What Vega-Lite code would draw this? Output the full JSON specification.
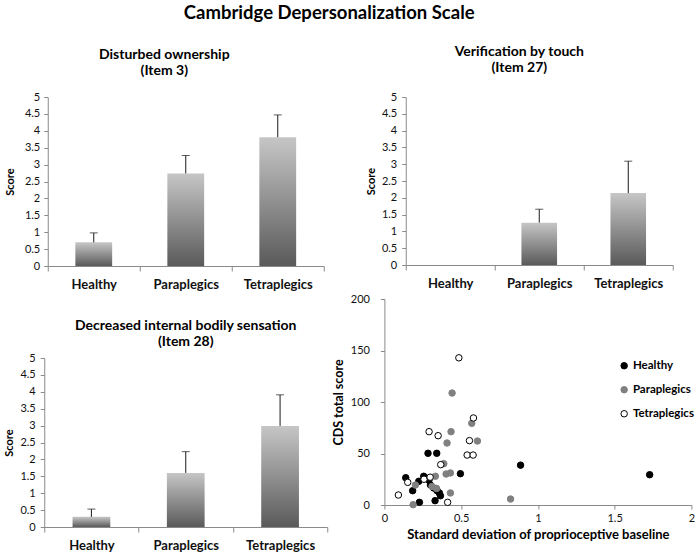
{
  "$schema": "https://vega.github.io/schema/vega-lite/v6.json",
  "padding": {"left": 3, "top": 3, "right": 3, "bottom": 3},
  "title": {"text": "Cambridge Depersonalization Scale", "anchor": "middle", "fontSize": 18.5, "fontWeight": "bold", "font": "Lato", "color": "#000", "offset": 23, "dx": -20},
  "config": {
    "font": "Lato",
    "view": {"stroke": null},
    "axis": {"domainColor": "#8a8a8a", "tickColor": "#8a8a8a", "labelColor": "#111", "titleColor": "#000", "grid": false, "labelFont": "Lato", "titleFont": "Lato", "labelOverlap": false},
    "title": {"font": "Lato", "fontSize": 14, "fontWeight": "bold", "color": "#000", "lineHeight": 16}
  },
  "resolve": {"legend": {"fill": "independent", "stroke": "independent"}},
  "datasets": {
    "item3": [
      {"group": "Healthy", "mean": 0.70, "upper": 0.98},
      {"group": "Paraplegics", "mean": 2.74, "upper": 3.27},
      {"group": "Tetraplegics", "mean": 3.81, "upper": 4.47}
    ],
    "item27": [
      {"group": "Healthy", "mean": 0.0, "upper": 0.0},
      {"group": "Paraplegics", "mean": 1.26, "upper": 1.66},
      {"group": "Tetraplegics", "mean": 2.14, "upper": 3.09}
    ],
    "item28": [
      {"group": "Healthy", "mean": 0.30, "upper": 0.53},
      {"group": "Paraplegics", "mean": 1.60, "upper": 2.23},
      {"group": "Tetraplegics", "mean": 2.99, "upper": 3.91}
    ],
    "scatter": [
      {"group": "Healthy", "sd": 0.139, "cds": 26.5},
      {"group": "Healthy", "sd": 0.184, "cds": 13.9},
      {"group": "Healthy", "sd": 0.224, "cds": 23},
      {"group": "Healthy", "sd": 0.228, "cds": 2.6},
      {"group": "Healthy", "sd": 0.256, "cds": 27.9},
      {"group": "Healthy", "sd": 0.284, "cds": 50.2},
      {"group": "Healthy", "sd": 0.341, "cds": 50.2},
      {"group": "Healthy", "sd": 0.29, "cds": 24},
      {"group": "Healthy", "sd": 0.30, "cds": 19.4},
      {"group": "Healthy", "sd": 0.321, "cds": 16.5},
      {"group": "Healthy", "sd": 0.343, "cds": 13.9},
      {"group": "Healthy", "sd": 0.358, "cds": 11.7},
      {"group": "Healthy", "sd": 0.365, "cds": 9},
      {"group": "Healthy", "sd": 0.33, "cds": 4.2},
      {"group": "Healthy", "sd": 0.495, "cds": 30.4},
      {"group": "Healthy", "sd": 0.887, "cds": 38.7},
      {"group": "Healthy", "sd": 1.728, "cds": 29.4},
      {"group": "Paraplegics", "sd": 0.441, "cds": 108.7},
      {"group": "Paraplegics", "sd": 0.569, "cds": 79.3},
      {"group": "Paraplegics", "sd": 0.434, "cds": 71.2},
      {"group": "Paraplegics", "sd": 0.408, "cds": 60.2},
      {"group": "Paraplegics", "sd": 0.606, "cds": 62.1},
      {"group": "Paraplegics", "sd": 0.387, "cds": 40.1},
      {"group": "Paraplegics", "sd": 0.402, "cds": 30.1},
      {"group": "Paraplegics", "sd": 0.43, "cds": 31.1},
      {"group": "Paraplegics", "sd": 0.332, "cds": 27.9},
      {"group": "Paraplegics", "sd": 0.202, "cds": 19.4},
      {"group": "Paraplegics", "sd": 0.31, "cds": 18},
      {"group": "Paraplegics", "sd": 0.34, "cds": 16},
      {"group": "Paraplegics", "sd": 0.43, "cds": 11.7},
      {"group": "Paraplegics", "sd": 0.187, "cds": 0.3},
      {"group": "Paraplegics", "sd": 0.822, "cds": 5.8},
      {"group": "Tetraplegics", "sd": 0.485, "cds": 142.9},
      {"group": "Tetraplegics", "sd": 0.58, "cds": 84.5},
      {"group": "Tetraplegics", "sd": 0.291, "cds": 71.2},
      {"group": "Tetraplegics", "sd": 0.35, "cds": 67.3},
      {"group": "Tetraplegics", "sd": 0.554, "cds": 62.5},
      {"group": "Tetraplegics", "sd": 0.539, "cds": 48.5},
      {"group": "Tetraplegics", "sd": 0.578, "cds": 48.5},
      {"group": "Tetraplegics", "sd": 0.367, "cds": 39.2},
      {"group": "Tetraplegics", "sd": 0.258, "cds": 25},
      {"group": "Tetraplegics", "sd": 0.298, "cds": 27},
      {"group": "Tetraplegics", "sd": 0.152, "cds": 22},
      {"group": "Tetraplegics", "sd": 0.091, "cds": 9.7},
      {"group": "Tetraplegics", "sd": 0.412, "cds": 2.6}
    ]
  },
  "spacing": 4,
  "hconcat": [
    {
      "center": true,
      "spacing": 28,
      "vconcat": [
        {
          "width": 276, "height": 169,
          "title": {"text": ["Disturbed ownership", "(Item 3)"], "frame": "bounds", "offset": 13},
          "data": {"name": "item3"},
          "encoding": {
            "x": {"field": "group", "type": "nominal", "sort": null, "title": null,
                  "scale": {"paddingInner": 0, "paddingOuter": 0},
                  "axis": {"labelAngle": 0, "labelFontWeight": "bold", "labelFontSize": 13, "tickBand": "extent", "tickSize": 5, "labelPadding": 7}}
          },
          "layer": [
            {"mark": {"type": "bar", "width": {"band": 0.4}, "color": {"gradient": "linear", "x1": 0, "y1": 0, "x2": 0, "y2": 1, "stops": [{"offset": 0, "color": "#c6c6c6"}, {"offset": 1, "color": "#5a5a5a"}]}},
             "encoding": {"y": {"field": "mean", "type": "quantitative", "title": "Score", "scale": {"domain": [0, 5]},
                                "axis": {"values": [0, 0.5, 1, 1.5, 2, 2.5, 3, 3.5, 4, 4.5, 5], "labelExpr": "'' + datum.value", "tickSize": 4, "labelPadding": 4, "titlePadding": 9, "labelFontSize": 11, "titleFontSize": 11, "titleFontWeight": "bold", "labelFlush": false}}}},
            {"transform": [{"filter": "datum.upper > datum.mean"}],
             "mark": {"type": "rule", "color": "#1a1a1a", "strokeWidth": 1},
             "encoding": {"y": {"field": "mean", "type": "quantitative", "title": "Score",
                                "axis": {"values": [0, 0.5, 1, 1.5, 2, 2.5, 3, 3.5, 4, 4.5, 5], "labelExpr": "'' + datum.value", "tickSize": 4, "labelPadding": 4, "titlePadding": 9, "labelFontSize": 11, "titleFontSize": 11, "titleFontWeight": "bold", "labelFlush": false}},
                          "y2": {"field": "upper"}}},
            {"transform": [{"filter": "datum.upper > datum.mean"}],
             "mark": {"type": "tick", "color": "#1a1a1a", "size": 8, "thickness": 1},
             "encoding": {"y": {"field": "upper", "type": "quantitative", "title": "Score",
                                "axis": {"values": [0, 0.5, 1, 1.5, 2, 2.5, 3, 3.5, 4, 4.5, 5], "labelExpr": "'' + datum.value", "tickSize": 4, "labelPadding": 4, "titlePadding": 9, "labelFontSize": 11, "titleFontSize": 11, "titleFontWeight": "bold", "labelFlush": false}}}}
          ]
        },
        {
          "width": 283, "height": 169,
          "title": {"text": ["Decreased internal bodily sensation", "(Item 28)"], "frame": "group", "offset": 3},
          "data": {"name": "item28"},
          "encoding": {
            "x": {"field": "group", "type": "nominal", "sort": null, "title": null,
                  "scale": {"paddingInner": 0, "paddingOuter": 0},
                  "axis": {"labelAngle": 0, "labelFontWeight": "bold", "labelFontSize": 13, "tickBand": "extent", "tickSize": 5, "labelPadding": 7}}
          },
          "layer": [
            {"mark": {"type": "bar", "width": {"band": 0.4}, "color": {"gradient": "linear", "x1": 0, "y1": 0, "x2": 0, "y2": 1, "stops": [{"offset": 0, "color": "#c6c6c6"}, {"offset": 1, "color": "#5a5a5a"}]}},
             "encoding": {"y": {"field": "mean", "type": "quantitative", "title": "Score", "scale": {"domain": [0, 5]},
                                "axis": {"values": [0, 0.5, 1, 1.5, 2, 2.5, 3, 3.5, 4, 4.5, 5], "labelExpr": "'' + datum.value", "tickSize": 4, "labelPadding": 5, "titlePadding": 5, "labelFontSize": 11, "titleFontSize": 11, "titleFontWeight": "bold", "labelFlush": false}}}},
            {"transform": [{"filter": "datum.upper > datum.mean"}],
             "mark": {"type": "rule", "color": "#1a1a1a", "strokeWidth": 1},
             "encoding": {"y": {"field": "mean", "type": "quantitative", "title": "Score",
                                "axis": {"values": [0, 0.5, 1, 1.5, 2, 2.5, 3, 3.5, 4, 4.5, 5], "labelExpr": "'' + datum.value", "tickSize": 4, "labelPadding": 5, "titlePadding": 5, "labelFontSize": 11, "titleFontSize": 11, "titleFontWeight": "bold", "labelFlush": false}},
                          "y2": {"field": "upper"}}},
            {"transform": [{"filter": "datum.upper > datum.mean"}],
             "mark": {"type": "tick", "color": "#1a1a1a", "size": 8, "thickness": 1},
             "encoding": {"y": {"field": "upper", "type": "quantitative", "title": "Score",
                                "axis": {"values": [0, 0.5, 1, 1.5, 2, 2.5, 3, 3.5, 4, 4.5, 5], "labelExpr": "'' + datum.value", "tickSize": 4, "labelPadding": 5, "titlePadding": 5, "labelFontSize": 11, "titleFontSize": 11, "titleFontWeight": "bold", "labelFlush": false}}}}
          ]
        }
      ]
    },
    {
      "center": true,
      "spacing": 3,
      "resolve": {"legend": {"fill": "independent", "stroke": "independent"}},
      "vconcat": [
        {
          "width": 267, "height": 168,
          "title": {"text": ["Verification by touch", "(Item 27)"], "frame": "bounds", "offset": 16},
          "data": {"name": "item27"},
          "encoding": {
            "x": {"field": "group", "type": "nominal", "sort": null, "title": null,
                  "scale": {"paddingInner": 0, "paddingOuter": 0},
                  "axis": {"labelAngle": 0, "labelFontWeight": "bold", "labelFontSize": 13, "tickBand": "extent", "tickSize": 5, "labelPadding": 7}}
          },
          "layer": [
            {"mark": {"type": "bar", "width": {"band": 0.4}, "color": {"gradient": "linear", "x1": 0, "y1": 0, "x2": 0, "y2": 1, "stops": [{"offset": 0, "color": "#c6c6c6"}, {"offset": 1, "color": "#5a5a5a"}]}},
             "encoding": {"y": {"field": "mean", "type": "quantitative", "title": "Score", "scale": {"domain": [0, 5]},
                                "axis": {"values": [0, 0.5, 1, 1.5, 2, 2.5, 3, 3.5, 4, 4.5, 5], "labelExpr": "'' + datum.value", "tickSize": 4, "labelPadding": 5, "titlePadding": 5, "labelFontSize": 11, "titleFontSize": 11, "titleFontWeight": "bold", "labelFlush": false}}}},
            {"transform": [{"filter": "datum.upper > datum.mean"}],
             "mark": {"type": "rule", "color": "#1a1a1a", "strokeWidth": 1},
             "encoding": {"y": {"field": "mean", "type": "quantitative", "title": "Score",
                                "axis": {"values": [0, 0.5, 1, 1.5, 2, 2.5, 3, 3.5, 4, 4.5, 5], "labelExpr": "'' + datum.value", "tickSize": 4, "labelPadding": 5, "titlePadding": 5, "labelFontSize": 11, "titleFontSize": 11, "titleFontWeight": "bold", "labelFlush": false}},
                          "y2": {"field": "upper"}}},
            {"transform": [{"filter": "datum.upper > datum.mean"}],
             "mark": {"type": "tick", "color": "#1a1a1a", "size": 8, "thickness": 1},
             "encoding": {"y": {"field": "upper", "type": "quantitative", "title": "Score",
                                "axis": {"values": [0, 0.5, 1, 1.5, 2, 2.5, 3, 3.5, 4, 4.5, 5], "labelExpr": "'' + datum.value", "tickSize": 4, "labelPadding": 5, "titlePadding": 5, "labelFontSize": 11, "titleFontSize": 11, "titleFontWeight": "bold", "labelFlush": false}}}}
          ]
        },
        {
          "width": 307, "height": 206,
          "data": {"name": "scatter"},
          "mark": {"type": "point", "filled": true, "size": 42, "strokeWidth": 1, "opacity": 1},
          "encoding": {
            "x": {"field": "sd", "type": "quantitative", "title": "Standard deviation of proprioceptive baseline",
                  "scale": {"domain": [0, 2], "nice": false},
                  "axis": {"values": [0, 0.5, 1, 1.5, 2], "labelExpr": "'' + datum.value", "tickSize": 4, "labelPadding": 3, "titlePadding": 5, "labelFontSize": 11, "titleFontSize": 13, "titleFontWeight": "bold", "labelFlush": false}},
            "y": {"field": "cds", "type": "quantitative", "title": "CDS total score",
                  "scale": {"domain": [0, 200], "nice": false},
                  "axis": {"values": [0, 50, 100, 150, 200], "labelExpr": "'' + datum.value", "tickSize": 4, "labelPadding": 11, "titlePadding": 5, "labelFontSize": 11, "titleFontSize": 12.5, "titleFontWeight": "bold", "labelFlush": false}},
            "fill": {"field": "group", "type": "nominal", "title": null,
                     "scale": {"domain": ["Healthy", "Paraplegics", "Tetraplegics"], "range": ["#000000", "#808080", "#ffffff"]},
                     "legend": {"orient": "none", "legendX": 234, "legendY": 61, "padding": 0, "symbolSize": 42, "symbolStrokeWidth": 1, "labelFontSize": 11.5, "labelFontWeight": "bold", "labelColor": "#000", "rowPadding": 11, "labelOffset": 3}},
            "stroke": {"field": "group", "type": "nominal", "title": null,
                       "scale": {"domain": ["Healthy", "Paraplegics", "Tetraplegics"], "range": ["#000000", "#808080", "#000000"]}}
          }
        }
      ]
    }
  ]
}
